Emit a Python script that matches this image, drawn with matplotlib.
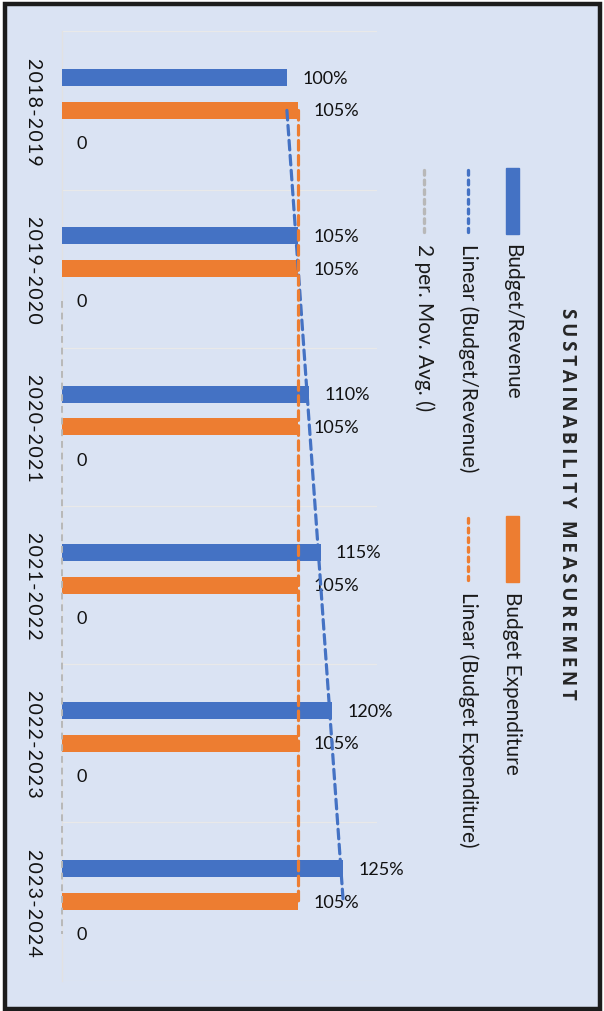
import numpy as np
import matplotlib
matplotlib.use('Agg')
import matplotlib.pyplot as plt
from matplotlib.patches import Rectangle
from matplotlib.lines import Line2D

plt.rcParams['font.family'] = ['Lato', 'DejaVu Sans']

# data
periods = ['2018-2019', '2019-2020', '2020-2021', '2021-2022', '2022-2023', '2023-2024']
budget_revenue = [100, 105, 110, 115, 120, 125]
budget_expenditure = [105, 105, 105, 105, 105, 105]
third_series = [0, 0, 0, 0, 0, 0]

BLUE = '#4472C4'
ORANGE = '#ED7D31'
GREY = '#B8B8B8'
BG = '#DAE3F3'

W, H = 604, 1012
fig = plt.figure(figsize=(W / 100, H / 100), dpi=100)
fig.patch.set_facecolor('white')


def fx(px):
    return px / W


def fy(py):
    return 1 - py / H


def spaced(s, sep='\u200a'):
    return sep.join(s)


# chart area with dark frame
fig.patches.append(Rectangle((fx(4.5), fy(1009.5)), fx(595.5), (1005 / H),
                             transform=fig.transFigure, facecolor=BG,
                             edgecolor='#1c1c1c', linewidth=3.2, zorder=-10))

left, right, top, bottom = 61.7, 377, 32.3, 981.7
ax = fig.add_axes([fx(left), fy(bottom), fx(right - left), (bottom - top) / H])
ax.set_facecolor('none')
ax.set_zorder(2)

n = len(periods)
y = np.arange(n)
off = 0.207
h = 0.107

b1 = ax.barh(y - off, budget_revenue, height=h, color=BLUE, zorder=3)
b2 = ax.barh(y, budget_expenditure, height=h, color=ORANGE, zorder=3)
b3 = ax.barh(y + off, third_series, height=h, color='#A5A5A5', zorder=3)

lab_kw = dict(padding=11, fontsize=13, color='#111111')
ax.bar_label(b1, labels=[f'{v}%' for v in budget_revenue], **lab_kw)
ax.bar_label(b2, labels=[f'{v}%' for v in budget_expenditure], **lab_kw)
ax.bar_label(b3, labels=[f'{v}' for v in third_series], **lab_kw)

# linear trendlines at category centres
dash = (0, (3.0, 1.7))
for vals, col in [(budget_revenue, BLUE), (budget_expenditure, ORANGE)]:
    k, c = np.polyfit(y, vals, 1)
    ax.plot(k * y + c, y, color=col, lw=2.3, linestyle=dash,
            dash_capstyle='round', zorder=4, clip_on=False)

# 2 period moving average of the third series
ma = np.convolve(third_series, [0.5, 0.5], mode='valid')
ax.plot(ma, y[1:] + off, color=GREY, lw=1.4, linestyle=(0, (3.5, 2.5)),
        zorder=3.5, clip_on=False)

ax.set_xlim(0, 140)
ax.set_ylim(n - 0.5, -0.5)
ax.set_xticks([])
ax.set_yticks(y, [spaced(p) for p in periods], rotation=-90, va='center',
              fontsize=14, color='#111111')
ax.tick_params(axis='y', length=0, pad=14)
for yy in np.arange(-0.5, n, 1):
    ax.axhline(yy, color='#E9E9E9', lw=0.9, zorder=1)
for s in ['top', 'right', 'bottom']:
    ax.spines[s].set_visible(False)
ax.spines['left'].set_color('#E2E2E2')
ax.spines['left'].set_linewidth(0.9)
ax.spines['left'].set_zorder(1)

# legend, drawn sideways
txt_kw = dict(rotation=-90, rotation_mode='anchor', ha='left', va='center',
              fontsize=15, color='#1a1a1a', transform=fig.transFigure)


def legend_patch(x0, y0, col):
    fig.patches.append(Rectangle((fx(x0), fy(y0 + 66)), 13 / W, 66 / H,
                                 transform=fig.transFigure, color=col))


def legend_line(x0, y0, col):
    fig.lines.append(Line2D([fx(x0), fx(x0)], [fy(y0 + 2), fy(y0 + 64)],
                            transform=fig.transFigure, color=col, lw=2.4,
                            linestyle=(0, (1.4, 1.5)), dash_capstyle='round'))


legend_patch(506, 169, BLUE)
fig.text(fx(512.5), fy(244), 'Budget/Revenue', **txt_kw)
legend_patch(506, 517, ORANGE)
fig.text(fx(512.5), fy(592), 'Budget Expenditure', **txt_kw)
legend_line(468, 169, BLUE)
fig.text(fx(468), fy(244), 'Linear (Budget/Revenue)', **txt_kw)
legend_line(468, 517, ORANGE)
fig.text(fx(468), fy(592), 'Linear (Budget Expenditure)', **txt_kw)
legend_line(424, 169, GREY)
fig.text(fx(424), fy(244), '2 per. Mov. Avg. ()', **txt_kw)

fig.text(fx(567), fy(504), spaced('SUSTAINABILITY MEASUREMENT', '\u2009'),
         rotation=-90, rotation_mode='anchor', ha='center', va='center',
         fontsize=13.5, fontweight='bold', color='#262626',
         family=['Open Sans', 'DejaVu Sans'], transform=fig.transFigure)

fig.savefig('out.png', dpi=100, facecolor='white')
